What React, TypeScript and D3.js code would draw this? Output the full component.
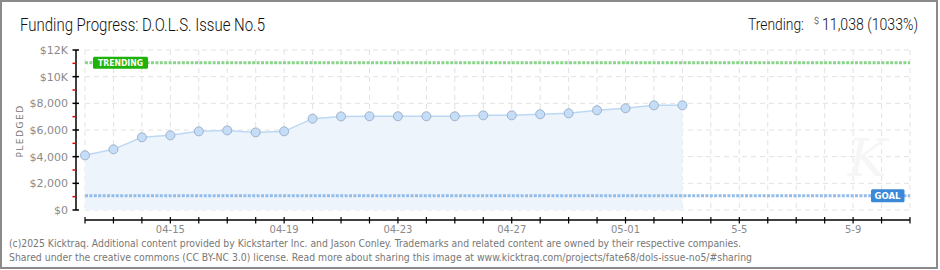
import React from "react";
import * as d3 from "d3";

const dates = [
  "2025-04-12", "2025-04-13", "2025-04-14", "2025-04-15", "2025-04-16", "2025-04-17",
  "2025-04-18", "2025-04-19", "2025-04-20", "2025-04-21", "2025-04-22", "2025-04-23",
  "2025-04-24", "2025-04-25", "2025-04-26", "2025-04-27", "2025-04-28", "2025-04-29",
  "2025-04-30", "2025-05-01", "2025-05-02", "2025-05-03",
];
const pledged = [
  4100, 4550, 5450, 5600, 5900, 5970, 5820, 5900, 6850, 7020, 7030, 7030,
  7030, 7030, 7100, 7100, 7180, 7250, 7480, 7630, 7850, 7850,
];
const domainStart = "2025-04-12";
const domainEnd = "2025-05-11";
const labelDates = ["2025-04-15", "2025-04-19", "2025-04-23", "2025-04-27", "2025-05-01", "2025-05-05", "2025-05-09"];
const labelTexts = ["04-15", "04-19", "04-23", "04-27", "05-01", "5-5", "5-9"];
const yMajor = [0, 2000, 4000, 6000, 8000, 10000, 12000];
const yMajorLabels = ["$0", "$2,000", "$4,000", "$6,000", "$8,000", "$10K", "$12K"];
const yMinor = [1000, 3000, 5000, 7000, 9000, 11000];
const trending = 11038;
const goal = 1068;
const title = "Funding Progress: D.O.L.S. Issue No.5";
const footer1 = "(c)2025 Kicktraq. Additional content provided by Kickstarter Inc. and Jason Conley. Trademarks and related content are owned by their respective companies.";
const footer2 = "Shared under the creative commons (CC BY-NC 3.0) license. Read more about sharing this image at www.kicktraq.com/projects/fate68/dols-issue-no5/#sharing";

const parse = (s: string) => new Date(s + "T00:00:00Z");

export default function App() {
  const x = d3.scaleUtc().domain([parse(domainStart), parse(domainEnd)]).range([85, 910]);
  const y = d3.scaleLinear().domain([0, 12000]).range([210, 50]);
  const days = d3.utcDay.range(parse(domainStart), d3.utcDay.offset(parse(domainEnd), 1));
  const pts = dates.map((d, i) => ({ d: parse(d), v: pledged[i] }));
  const line = d3.line<{ d: Date; v: number }>().x((p) => x(p.d)).y((p) => y(p.v));
  const area = d3.area<{ d: Date; v: number }>().x((p) => x(p.d)).y0(y(0)).y1((p) => y(p.v));
  const [x0, x1] = x.range();
  const font = "'DejaVu Sans', sans-serif";
  return (
    <svg width={940} height={270} style={{ position: "absolute", left: 0, top: 0, background: "#fff" }}>
      <rect x={1} y={1} width={936} height={267} fill="#fff" stroke="#8a8a8a" strokeWidth={2} />
      <text x={20} y={31} fontFamily="Roboto, sans-serif" fontWeight={300} fontSize={18} fill="#111" textLength={245} lengthAdjust="spacingAndGlyphs">{title}</text>
      <text x={748} y={30} fontFamily="Roboto, sans-serif" fontWeight={300} fontSize={16} fill="#111" textLength={56} lengthAdjust="spacingAndGlyphs">Trending:</text>
      <text x={814} y={24} fontFamily="Roboto, sans-serif" fontWeight={300} fontSize={9} fill="#111">$</text>
      <text x={822} y={30} fontFamily="Roboto, sans-serif" fontWeight={300} fontSize={17} fill="#111" textLength={96} lengthAdjust="spacingAndGlyphs">11,038 (1033%)</text>

      {/* grid */}
      {days.map((d, i) => (
        <line key={"vg" + i} x1={x(d)} x2={x(d)} y1={y(12000)} y2={y(0)} stroke="#e2e2e2" strokeDasharray="5,4" />
      ))}
      {yMajor.map((v, i) => (
        <line key={"hg" + i} x1={x0} x2={x1} y1={y(v)} y2={y(v)} stroke="#e2e2e2" strokeDasharray="5,4" />
      ))}

      {/* watermark */}
      <text x={848} y={176} fontFamily="'DejaVu Serif', serif" fontStyle="italic" fontSize={52} fill="#f6f6f6">K</text>

      {/* area & line */}
      <path d={area(pts) || ""} fill="#edf4fc" />
      <path d={line(pts) || ""} fill="none" stroke="#bcd8f4" strokeWidth={1.5} />

      {/* trending & goal lines */}
      <line x1={x0} x2={x1} y1={y(trending)} y2={y(trending)} stroke="#8bd48b" strokeWidth={3} strokeDasharray="3,1.4" />
      <line x1={x0} x2={x1} y1={y(goal)} y2={y(goal)} stroke="#94bde9" strokeWidth={3} strokeDasharray="3,1.4" />

      {pts.map((p, i) => (
        <circle key={"pt" + i} cx={x(p.d)} cy={y(p.v)} r={4.5} fill="#c6ddf7" stroke="#9db2cc" strokeWidth={1} />
      ))}

      {/* labels */}
      <rect x={93} y={y(trending) - 6} width={55} height={12} rx={1.5} fill="#1eb20a" />
      <text x={120.5} y={y(trending) + 3.5} textAnchor="middle" fontFamily={font} fontWeight="bold" fontSize={9} fill="#fff" textLength={45} lengthAdjust="spacingAndGlyphs">TRENDING</text>
      <rect x={871} y={y(goal) - 6.5} width={33.5} height={13} rx={1.5} fill="#3b88d8" />
      <text x={887.5} y={y(goal) + 3.5} textAnchor="middle" fontFamily={font} fontWeight="bold" fontSize={9} fill="#fff" textLength={26} lengthAdjust="spacingAndGlyphs">GOAL</text>

      {/* y axis */}
      <line x1={76} x2={76} y1={y(12000)} y2={y(0)} stroke="#000" strokeWidth={1.5} />
      {yMajor.map((v, i) => (
        <g key={"yt" + i}>
          <line x1={72.5} x2={79} y1={y(v)} y2={y(v)} stroke="#000" strokeWidth={1.5} />
          <text x={68} y={y(v) + 4} textAnchor="end" fontFamily={font} fontSize={11} fill="#8a8a8a">{yMajorLabels[i]}</text>
        </g>
      ))}
      {yMinor.map((v, i) => (
        <line key={"ym" + i} x1={72.5} x2={76} y1={y(v)} y2={y(v)} stroke="#e00000" strokeWidth={1.5} />
      ))}
      <text transform={`translate(23,131) rotate(-90)`} textAnchor="middle" fontFamily={font} fontSize={9} fill="#777" letterSpacing={1.5}>PLEDGED</text>

      {/* x axis */}
      <line x1={x0} x2={x1} y1={220} y2={220} stroke="#000" strokeWidth={1.5} />
      {days.map((d, i) => (
        <line key={"xt" + i} x1={x(d)} x2={x(d)} y1={217} y2={223.5} stroke="#000" strokeWidth={1.2} />
      ))}
      {labelDates.map((d, i) => (
        <text key={"xl" + i} x={x(parse(d))} y={233} textAnchor="middle" fontFamily={font} fontSize={10} fill="#8a8a8a">{labelTexts[i]}</text>
      ))}

      {/* footer */}
      <text x={9} y={247} fontFamily="'DejaVu Sans Condensed', 'DejaVu Sans', sans-serif" fontSize={10} fill="#777" textLength={732} lengthAdjust="spacingAndGlyphs">{footer1}</text>
      <text x={9} y={261} fontFamily="'DejaVu Sans Condensed', 'DejaVu Sans', sans-serif" fontSize={10} fill="#777" textLength={743} lengthAdjust="spacingAndGlyphs">{footer2}</text>
    </svg>
  );
}
